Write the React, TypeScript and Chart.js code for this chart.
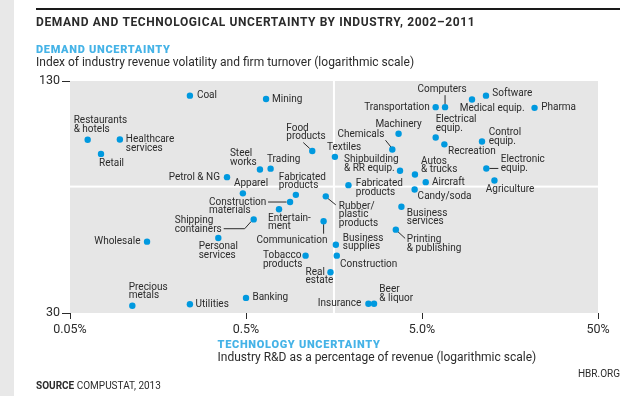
import React, { useEffect, useRef } from 'react';
import { Chart, registerables } from 'chart.js';
Chart.register(...registerables);

// ---------- DATA ----------
const INDUSTRIES = [
  'Coal', 'Mining', 'Restaurants\n& hotels', 'Healthcare\nservices', 'Retail', 'Petrol & NG',
  'Steel\nworks', 'Trading', 'Food\nproducts', 'Textiles', 'Apparel', 'Fabricated\nproducts',
  'Construction\nmaterials', 'Rubber/\nplastic\nproducts', 'Fabricated\nproducts', 'Shipping\ncontainers',
  'Entertain-\nment', 'Communication', 'Personal\nservices', 'Wholesale', 'Business\nsupplies',
  'Construction', 'Tobacco\nproducts', 'Real\nestate', 'Banking', 'Insurance', 'Beer\n& liquor',
  'Utilities', 'Precious\nmetals', 'Chemicals', 'Machinery', 'Shipbuilding\n& RR equip.',
  'Autos\n& trucks', 'Aircraft', 'Candy/soda', 'Business\nservices', 'Printing\n& publishing',
  'Transportation', 'Computers', 'Medical equip.', 'Software', 'Pharma', 'Electrical\nequip.',
  'Recreation', 'Control\nequip.', 'Electronic\nequip.', 'Agriculture',
];
// Technology uncertainty: R&D as % of revenue
const RD_PCT = [
  0.24, 0.65, 0.063, 0.096, 0.075, 0.39,
  0.60, 0.69, 1.19, 1.60, 0.48, 0.96,
  0.89, 1.42, 1.91, 0.553,
  0.77, 1.38, 0.348, 0.137, 1.62,
  1.64, 1.09, 1.51, 0.50, 2.48, 2.67,
  0.24, 0.113, 3.39, 3.68, 3.75,
  4.56, 5.25, 4.54, 3.82, 3.55,
  5.98, 6.76, 9.62, 11.55, 21.8, 5.98,
  6.70, 10.96, 11.6, 12.9,
];
// Demand uncertainty index
const DEMAND = [
  118.5, 116, 89.7, 89.8, 82, 70.8,
  74.3, 74.7, 83.5, 80.5, 63.9, 63.3,
  60.5, 62.7, 67.3, 54.2,
  57.8, 53.6, 48.2, 47.1, 46.2,
  43.1, 43.1, 38.8, 33.0, 31.8, 31.8,
  31.7, 31.4, 84.3, 93.1, 73.7,
  72.0, 68.6, 65.5, 58.7, 50.8,
  110.2, 110.2, 115.6, 118.5, 109.7, 91.0,
  87.1, 88.7, 74.8, 69.3,
];
const X_TICKS = [0.05, 0.5, 5, 50];
const X_TICK_LABELS = ['0.05%', '0.5%', '5.0%', '50%'];
const Y_TICKS = [30, 130];
const Y_TICK_LABELS = ['30', '130'];
const X_SPLIT = 1.58;
const Y_SPLIT = 66.7;

// ---------- LABEL LAYOUT (align, dx, dy of first line, optional leader) ----------
type Lay = [string, number, number, number[][]?];
const LAYOUT: Lay[] = [
  ['l', 7, 0], ['l', 6, 0], ['l', -14, -19], ['l', 6, 0], ['l', -2, 10], ['r', -7, 0],
  ['l', -30, -15.7], ['l', -3.6, -9], ['l', -26, -23, [[-9, -8.5], [-2.5, -2.5]]], ['l', -8, -9.6], ['l', -9, -9.7], ['l', -17, -17.6],
  ['l', -81, 0, [[-22, 0], [-3.5, 0]]], ['l', 13, 9.7, [[2, 2], [10, 8.5]]], ['l', 7.4, -1.7], ['l', -79, 1, [[-30, 9.3], [-9, 9.3], [-2.5, 2]]],
  ['l', -11, 9], ['l', -67, 19, [[0, 3], [0, 12.5]]], ['l', -19.6, 8.6], ['r', -6.6, 0], ['l', 7, -6.3],
  ['l', 3.3, 8.4], ['l', -42.6, 0], ['l', -25, 0], ['l', 6.4, 0], ['r', -7, 0], ['l', 5.3, -14.3],
  ['l', 5.7, 0], ['l', -3.6, -18.7], ['r', -8, -15, [[-6.8, -9.3], [-1.3, -2.5]]], ['c', 0, -9.7], ['l', -56, -11],
  ['l', 6, -13.3], ['l', 6.3, 0], ['l', 3, 7], ['l', 5.4, 6.4], ['l', 11, 10, [[1.5, 1.5], [9.3, 8.7]]],
  ['r', -6, 0], ['c', -3, -17.6, [[0, -12], [0, -3]]], ['l', -12.3, 9], ['l', 6.3, -2], ['l', 6.6, 0], ['l', 0, -17.7],
  ['l', 3.7, 7.6], ['l', 6.7, -9], ['l', 14.4, -8.7, [[3, 0], [12, 0]]], ['l', -8.7, 9],
];

const DOT = '#0099df';
const TEXT = '#2b2b2b';
const BLUE = '#45b3e7';
const FONT = 'Roboto, "Liberation Sans", sans-serif';
const LINE_H = 8.6;

const decorPlugin = {
  id: 'decor',
  beforeDraw(chart: any) {
    const { ctx, chartArea, scales } = chart;
    const { left, right, top, bottom } = chartArea;
    ctx.save();
    ctx.fillStyle = '#ffffff';
    ctx.fillRect(0, 0, chart.width, chart.height);
    ctx.fillStyle = '#e8e8e8';
    ctx.fillRect(0, 0, 14, chart.height);
    ctx.fillStyle = '#e6e6e6';
    ctx.fillRect(left, top, right - left, bottom - top);
    const sx = scales.x.getPixelForValue(X_SPLIT);
    const sy = scales.y.getPixelForValue(Y_SPLIT);
    ctx.fillStyle = '#ffffff';
    ctx.fillRect(sx - 1, top, 2, bottom - top);
    ctx.fillRect(left, sy - 1, right - left, 2);

    // rule and titles
    ctx.fillStyle = '#1a1a1a';
    ctx.fillRect(36, 8, 584, 2);
    ctx.textBaseline = 'middle';
    ctx.textAlign = 'left';
    ctx.fillStyle = TEXT;
    ctx.font = `bold 12px ${FONT}`;
    (ctx as any).letterSpacing = '0.6px';
    ctx.fillText('DEMAND AND TECHNOLOGICAL UNCERTAINTY BY INDUSTRY, 2002–2011', 36, 22.5);
    ctx.fillStyle = BLUE;
    ctx.font = `900 11px ${FONT}`;
    (ctx as any).letterSpacing = '0.7px';
    ctx.fillText('DEMAND UNCERTAINTY', 36, 50.7);
    ctx.fillText('TECHNOLOGY UNCERTAINTY', 217.5, 345);
    (ctx as any).letterSpacing = '0px';
    ctx.fillStyle = TEXT;
    ctx.font = `12px ${FONT}`;
    ctx.fillText('Index of industry revenue volatility and firm turnover (logarithmic scale)', 36, 63.3);
    ctx.fillText('Industry R&D as a percentage of revenue (logarithmic scale)', 217.5, 357.7);
    ctx.font = `bold 10px ${FONT}`;
    ctx.fillText('SOURCE', 36, 386);
    const w = ctx.measureText('SOURCE ').width;
    ctx.font = `10px ${FONT}`;
    ctx.fillText('COMPUSTAT, 2013', 36 + w, 386);
    ctx.textAlign = 'right';
    ctx.fillText('HBR.ORG', 620, 374.7);
    ctx.restore();
  },
  beforeDatasetsDraw(chart: any) {
    const { ctx } = chart;
    const pts = chart.getDatasetMeta(0).data;
    ctx.save();
    ctx.strokeStyle = TEXT;
    ctx.lineWidth = 1;
    LAYOUT.forEach((l, i) => {
      const lead = l[3];
      if (!lead) return;
      const p = pts[i];
      ctx.beginPath();
      lead.forEach((q, k) => {
        const px = p.x + q[0];
        const py = p.y + q[1];
        if (k === 0) ctx.moveTo(px, py); else ctx.lineTo(px, py);
      });
      ctx.stroke();
    });
    ctx.restore();
  },
  afterDatasetsDraw(chart: any) {
    const { ctx } = chart;
    const pts = chart.getDatasetMeta(0).data;
    ctx.save();
    ctx.fillStyle = TEXT;
    ctx.font = `10px ${FONT}`;
    ctx.textBaseline = 'middle';
    INDUSTRIES.forEach((name, i) => {
      const [a, dx, dy] = LAYOUT[i];
      const p = pts[i];
      ctx.textAlign = a === 'l' ? 'left' : a === 'r' ? 'right' : 'center';
      name.split('\n').forEach((line, k) => {
        ctx.fillText(line, p.x + dx, p.y + dy + k * LINE_H);
      });
    });
    ctx.restore();
  },
};

export default function App() {
  const ref = useRef<HTMLCanvasElement>(null);
  useEffect(() => {
    const chart = new Chart(ref.current as HTMLCanvasElement, {
      type: 'scatter',
      data: {
        datasets: [{
          data: INDUSTRIES.map((_, i) => ({ x: RD_PCT[i], y: DEMAND[i] })),
          pointRadius: 3.2,
          pointBackgroundColor: DOT,
          pointBorderWidth: 0,
          backgroundColor: DOT,
        }],
      },
      options: {
        responsive: false,
        animation: false,
        devicePixelRatio: 1,
        layout: { padding: { left: 30, right: 36, top: 81, bottom: 53 } },
        plugins: { legend: { display: false }, tooltip: { enabled: false } },
        scales: {
          x: {
            type: 'logarithmic',
            min: 0.05,
            max: 50,
            afterBuildTicks: (s: any) => { s.ticks = X_TICKS.map((v) => ({ value: v })); },
            afterFit: (s: any) => { s.height = 30; },
            border: { display: false },
            grid: { display: true, drawOnChartArea: false, drawTicks: true, tickLength: 6, color: TEXT, lineWidth: 1 },
            ticks: {
              autoSkip: false, maxRotation: 0, padding: 3, color: TEXT,
              font: { family: FONT, size: 12.5 },
              callback: (_v: any, i: number) => X_TICK_LABELS[i],
            },
          },
          y: {
            type: 'logarithmic',
            min: 30,
            max: 130,
            afterBuildTicks: (s: any) => { s.ticks = Y_TICKS.map((v) => ({ value: v })); },
            afterFit: (s: any) => { s.width = 40; },
            border: { display: false },
            grid: { display: true, drawOnChartArea: false, drawTicks: true, tickLength: 8, color: TEXT, lineWidth: 1 },
            ticks: {
              autoSkip: false, padding: 2, color: TEXT,
              font: { family: FONT, size: 12.5 },
              callback: (_v: any, i: number) => Y_TICK_LABELS[i],
            },
          },
        },
      } as any,
      plugins: [decorPlugin],
    });
    return () => chart.destroy();
  }, []);
  return (
    <div style={{ position: 'absolute', left: 0, top: 0, width: 634, height: 396, background: '#fff' }}>
      <canvas ref={ref} width={634} height={396} style={{ display: 'block' }} />
    </div>
  );
}
